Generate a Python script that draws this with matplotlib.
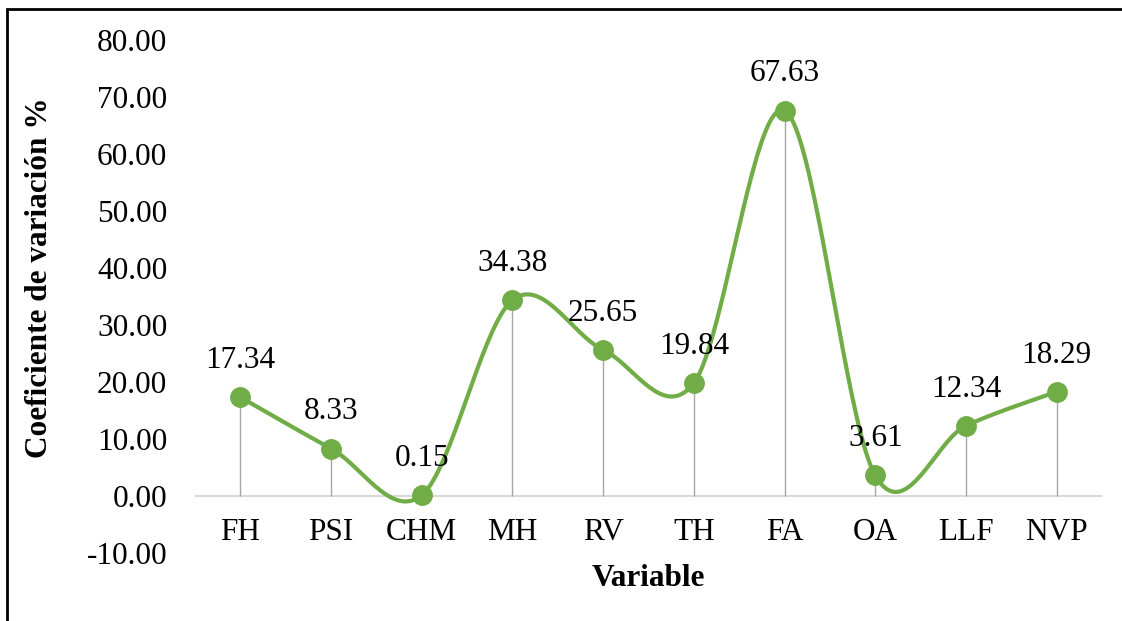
import numpy as np
import matplotlib
matplotlib.use("Agg")
from matplotlib import pyplot as plt
from matplotlib.patches import Rectangle

# Data
categories = ["FH", "PSI", "CHM", "MH", "RV", "TH", "FA", "OA", "LLF", "NVP"]
cv_values = [17.34, 8.33, 0.15, 34.38, 25.65, 19.84, 67.63, 3.61, 12.34, 18.29]
y_ticks = [-10, 0, 10, 20, 30, 40, 50, 60, 70, 80]

green = "#70AD47"
fs = 22.5
plt.rcParams["font.family"] = ["Liberation Serif", "DejaVu Serif"]


def smooth_curve(xs, ys, steps=40):
    # Catmull-Rom style bezier smoothing, like Excel's "smoothed line"
    xs = np.asarray(xs, float)
    ys = np.asarray(ys, float)
    px = np.concatenate([[xs[0]], xs, [xs[-1]]])
    py = np.concatenate([[ys[0]], ys, [ys[-1]]])
    out_x, out_y = [], []
    t = np.linspace(0, 1, steps)
    for i in range(1, len(px) - 2):
        p0 = np.array([px[i], py[i]])
        p3 = np.array([px[i + 1], py[i + 1]])
        c1 = p0 + (np.array([px[i + 1], py[i + 1]]) - np.array([px[i - 1], py[i - 1]])) / 6
        c2 = p3 - (np.array([px[i + 2], py[i + 2]]) - np.array([px[i], py[i]])) / 6
        b = ((1 - t) ** 3)[:, None] * p0 + (3 * (1 - t) ** 2 * t)[:, None] * c1 \
            + (3 * (1 - t) * t ** 2)[:, None] * c2 + (t ** 3)[:, None] * p3
        out_x.extend(b[:, 0])
        out_y.extend(b[:, 1])
    return out_x, out_y


fig = plt.figure(figsize=(11.22, 6.21), dpi=100)
ax = fig.add_axes([0.1738, 0.1095, 0.8084, 0.826])

x = np.arange(len(categories))

# zero line and drop lines
ax.axhline(0, color="#D9D9D9", lw=1.5, zorder=1)
ax.vlines(x, 0, cv_values, color="#A6A6A6", lw=1.0, zorder=2)

sx, sy = smooth_curve(x, cv_values)
ax.plot(sx, sy, color=green, lw=3.0, zorder=3, solid_capstyle="round")
ax.plot(x, cv_values, "o", color=green, markersize=14, zorder=4)

for xi, v in zip(x, cv_values):
    ax.annotate(f"{v:.2f}", (xi, v), xytext=(0, 21), textcoords="offset points",
                ha="center", va="baseline", fontsize=fs, zorder=5)

for s in ax.spines.values():
    s.set_visible(False)
# category labels sit next to the zero line, as in Excel
ax.spines["bottom"].set_position(("data", 0))

ax.set_xlim(-0.5, len(categories) - 0.5)
ax.set_ylim(-10, 80)
ax.set_xticks(x)
ax.set_xticklabels(categories)
ax.set_yticks(y_ticks)
ax.set_yticklabels([f"{t:.2f}" for t in y_ticks])
ax.tick_params(axis="both", length=0, labelsize=fs)
ax.tick_params(axis="y", pad=20)
ax.tick_params(axis="x", pad=16)

fig.text(648 / 1122, 1 - 578 / 621, "Variable", fontsize=fs, fontweight="bold",
         ha="center", va="center")
fig.text(40 / 1122, 1 - 278 / 621, "Coeficiente de variación %", fontsize=fs,
         fontweight="bold", ha="center", va="center", rotation=90)

# outer frame (cropped at right and bottom)
fig.patches.append(Rectangle((7 / 1122, -0.1), 1.2, 0.1 + (621 - 9) / 621,
                             transform=fig.transFigure, fill=False,
                             edgecolor="black", lw=2))

fig.savefig("out.png", dpi=100)
